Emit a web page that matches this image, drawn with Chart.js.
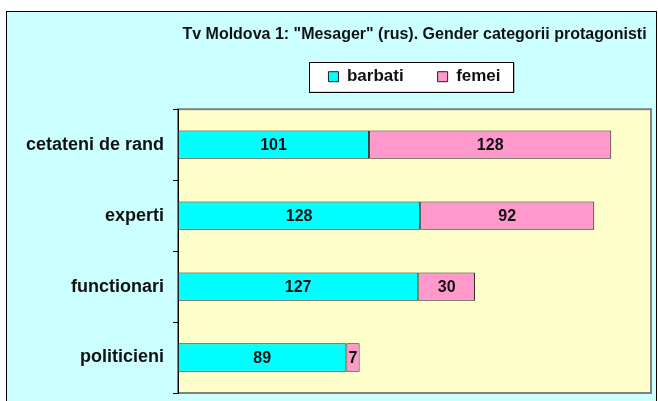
<!DOCTYPE html>
<html>
<head>
<meta charset="utf-8">
<script src="https://cdn.jsdelivr.net/npm/chart.js@4"></script>
<style>
  html, body { margin: 0; padding: 0; background: #fff; }
  #wrap { width: 658px; height: 401px; }
</style>
</head>
<body>
<div id="wrap"><canvas id="chart" width="658" height="401"></canvas></div>
<script>
const titleText = 'Tv Moldova 1: "Mesager" (rus). Gender categorii protagonisti';
const categories = ['cetateni de rand', 'experti', 'functionari', 'politicieni'];
const barbati = [101, 128, 127, 89];
const femei = [128, 92, 30, 7];

const FONT = '"Liberation Sans", Arial, sans-serif';

// frame, plot background and the white legend box
const backgroundPlugin = {
    id: 'background',
    beforeDraw(chart) {
        const { ctx, chartArea: a } = chart;
        ctx.save();
        ctx.fillStyle = '#ffffff';
        ctx.fillRect(0, 0, chart.width, chart.height);
        ctx.fillStyle = '#CCFFFF';
        ctx.fillRect(6, 11, 650, chart.height);
        ctx.strokeStyle = '#000';
        ctx.lineWidth = 1;
        ctx.strokeRect(6.5, 11.5, 650, chart.height);

        ctx.fillStyle = '#FFFFCC';
        ctx.fillRect(a.left, a.top, a.right - a.left, a.bottom - a.top);
        ctx.strokeStyle = '#808080';
        ctx.lineWidth = 2;
        ctx.strokeRect(a.left, a.top, a.right - a.left, a.bottom - a.top);

        const hb = chart.legend.legendHitBoxes;
        if (hb && hb.length) {
            const first = hb[0];
            const last = hb[hb.length - 1];
            const x0 = first.left - 19;
            const x1 = last.left + last.width + 13;
            const cy = first.top + first.height / 2;
            ctx.fillStyle = '#808080';
            ctx.fillRect(x0 + 1, cy - 15 + 1, x1 - x0, 30);
            ctx.fillStyle = '#ffffff';
            ctx.fillRect(x0, cy - 15, x1 - x0, 30);
            ctx.strokeStyle = '#000';
            ctx.lineWidth = 1;
            ctx.strokeRect(Math.round(x0) + 0.5, Math.round(cy - 15) + 0.5, Math.round(x1 - x0), 30);
        }
        ctx.restore();
    }
};

// value labels in the middle of each segment
const valueLabels = {
    id: 'valueLabels',
    afterDatasetsDraw(chart) {
        const { ctx } = chart;
        ctx.save();
        ctx.font = 'bold 16px ' + FONT;
        ctx.fillStyle = '#111';
        ctx.textAlign = 'center';
        ctx.textBaseline = 'middle';
        chart.data.datasets.forEach((ds, di) => {
            const meta = chart.getDatasetMeta(di);
            meta.data.forEach((bar, i) => {
                const { x, base, y } = bar.getProps(['x', 'base', 'y'], true);
                ctx.fillText(String(ds.data[i]), (x + base) / 2, y + 1);
            });
        });
        ctx.restore();
    }
};

new Chart(document.getElementById('chart'), {
    type: 'bar',
    data: {
        labels: categories,
        datasets: [
            {
                label: 'barbati',
                data: barbati,
                backgroundColor: '#00FFFF',
                borderColor: '#222',
                borderWidth: 1,
                borderSkipped: false,
            },
            {
                label: 'femei',
                data: femei,
                backgroundColor: '#FF99CC',
                borderColor: '#222',
                borderWidth: 1,
                borderSkipped: false,
            },
        ],
    },
    options: {
        indexAxis: 'y',
        responsive: false,
        animation: false,
        layout: { padding: { top: 12, left: 0, right: 7, bottom: 8 } },
        datasets: { bar: { categoryPercentage: 1, barPercentage: 0.4 } },
        scales: {
            x: {
                stacked: true,
                position: 'top',
                min: 0,
                max: 250,
                ticks: { display: false },
                grid: { display: false },
                border: { display: false },
                afterFit: (scale) => { scale.height = 14; },
            },
            y: {
                stacked: true,
                ticks: {
                    color: '#111',
                    padding: 9,
                    font: { family: FONT, size: 18, weight: 'bold' },
                },
                grid: {
                    drawOnChartArea: false,
                    tickLength: 5,
                    color: '#000',
                },
                border: { display: true, color: '#000', width: 1 },
                afterFit: (scale) => {
                    scale.width = 178;
                    scale.paddingTop = 0;
                    scale.paddingBottom = 0;
                },
            },
        },
        plugins: {
            title: {
                display: true,
                text: titleText,
                fullSize: false,
                color: '#111',
                font: { family: FONT, size: 16, weight: 'bold' },
                padding: { top: 13, bottom: -10 },
            },
            legend: {
                display: true,
                position: 'top',
                fullSize: false,
                labels: {
                    color: '#111',
                    boxWidth: 10,
                    boxHeight: 10,
                    padding: 34,
                    font: { family: FONT, size: 17, weight: 'bold' },
                },
            },
            tooltip: { enabled: false },
        },
    },
    plugins: [backgroundPlugin, valueLabels],
});
</script>
</body>
</html>
